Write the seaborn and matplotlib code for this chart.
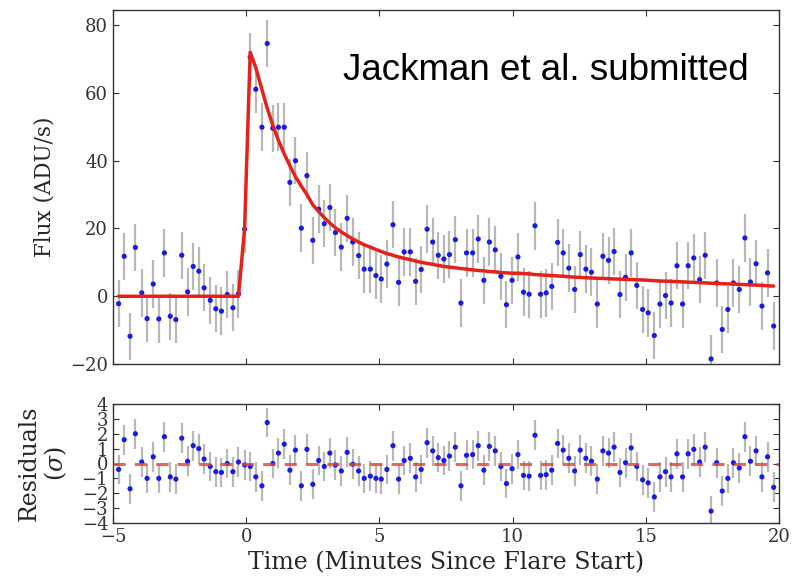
import numpy as np
import pandas as pd
import matplotlib
matplotlib.use("Agg")
import matplotlib.pyplot as plt
import seaborn as sns

# ---- data ----
time_min = [-4.79, -4.58, -4.36, -4.16, -3.92, -3.72, -3.49, -3.28, -3.07, -2.85,
            -2.64, -2.42, -2.20, -1.99, -1.78, -1.58, -1.35, -1.14, -0.93, -0.71,
            -0.50, -0.29, -0.06, 0.15, 0.36, 0.59, 0.79, 1.00, 1.21, 1.43,
            1.64, 1.85, 2.07, 2.28, 2.50, 2.72, 2.93, 3.14, 3.35, 3.57,
            3.79, 4.00, 4.22, 4.43, 4.66, 4.87, 5.07, 5.28, 5.51, 5.72,
            5.93, 6.16, 6.36, 6.57, 6.79, 7.00, 7.21, 7.42, 7.63, 7.85,
            8.06, 8.27, 8.50, 8.71, 8.92, 9.13, 9.35, 9.56, 9.77, 9.98,
            10.20, 10.41, 10.62, 10.84, 11.05, 11.26, 11.47, 11.69, 11.90, 12.11,
            12.33, 12.54, 12.75, 12.96, 13.18, 13.39, 13.60, 13.81, 14.03, 14.24,
            14.45, 14.66, 14.88, 15.09, 15.32, 15.53, 15.74, 15.95, 16.17, 16.38,
            16.59, 16.80, 17.02, 17.23, 17.45, 17.66, 17.87, 18.08, 18.29, 18.51,
            18.72, 18.93, 19.14, 19.36, 19.57, 19.80]

flux = [-2.2, 11.8, -11.8, 14.4, 1.0, -6.6, 3.6, -6.7, 12.8, -5.9,
        -6.9, 12.1, 1.3, 8.8, 7.4, 2.5, -1.2, -3.7, -4.4, 0.5,
        -3.4, 0.7, 19.8, 70.6, 61.1, 49.9, 74.6, 49.6, 49.9, 49.9,
        33.6, 40.0, 20.1, 35.6, 16.5, 25.7, 21.4, 26.2, 18.8, 14.5,
        23.0, 16.0, 12.0, 8.0, 8.0, 6.1, 5.1, 9.5, 21.1, 4.1,
        13.1, 13.1, 4.4, 7.9, 19.8, 16.0, 12.1, 11.0, 12.3, 16.7,
        -2.0, 12.8, 12.8, 16.9, 4.7, 16.0, 13.7, 5.9, -2.5, 4.7,
        11.6, 1.2, 0.6, 20.8, 0.6, 1.0, 2.9, 15.9, 12.8, 8.3,
        2.0, 12.3, 8.0, 7.1, -2.3, 11.8, 10.6, 13.2, 0.5, 5.6,
        12.8, 3.2, -3.9, -4.9, -11.6, -2.3, 0.2, -2.0, 9.0, -2.3,
        9.0, 11.3, 4.9, 12.1, -18.5, 3.9, -9.8, -3.9, 3.9, 2.0,
        17.2, 4.2, 9.6, -2.9, 6.9, -8.8]

flux_err = [7.0] * len(flux)

model = [0.0] * 22 + [
    20.0, 72.0, 67.5, 61.0, 55.5, 50.5, 46.0, 42.0, 38.5, 35.3,
    32.5, 30.0, 27.0, 25.0, 23.2, 21.6, 20.2, 19.0, 17.9, 16.9,
    16.0, 15.2, 14.5, 13.8, 13.2, 12.6, 12.1, 11.6, 11.2, 10.8,
    10.4, 10.0, 9.7, 9.4, 9.1, 8.8, 8.6, 8.4, 8.2, 8.0,
    7.8, 7.6, 7.5, 7.3, 7.2, 7.0, 6.9, 6.8, 6.8, 6.7,
    6.6, 6.4, 6.3, 6.2, 6.1, 6.0, 5.9, 5.75, 5.65, 5.55,
    5.45, 5.4, 5.3, 5.25, 5.2, 5.1, 5.05, 5.0, 4.95, 4.85,
    4.8, 4.7, 4.6, 4.5, 4.45, 4.4, 4.3, 4.25, 4.15, 4.1,
    4.0, 3.95, 3.85, 3.8, 3.7, 3.65, 3.6, 3.5, 3.45, 3.35,
    3.3, 3.2, 3.1, 3.0]

residuals = [-0.4, 1.6, -1.7, 2.0, 0.1, -1.0, 0.45, -1.0, 1.8, -0.9,
             -1.05, 1.7, 0.15, 1.2, 1.0, 0.3, -0.2, -0.55, -0.6, 0.0,
             -0.55, 0.1, -0.1, -0.2, -0.9, -1.5, 2.75, 0.0, 0.7, 1.3,
             -0.45, 0.9, -1.5, 0.95, -1.4, 0.2, -0.2, 0.7, -0.1, -0.5,
             0.75, -0.05, -0.5, -1.0, -0.85, -1.0, -1.05, -0.4, 1.2, -1.05,
             0.2, 0.35, -0.9, -0.4, 1.4, 0.85, 0.4, 0.2, 0.5, 1.1,
             -1.5, 0.55, 0.6, 1.2, -0.45, 1.15, 0.85, -0.2, -1.35, -0.35,
             0.6, -0.8, -0.85, 1.9, -0.8, -0.75, -0.45, 1.35, 0.9, 0.35,
             -0.5, 0.9, 0.35, 0.15, -1.05, 0.85, 0.7, 1.1, -0.6, 0.05,
             1.05, -0.2, -1.1, -1.3, -2.25, -0.9, -0.55, -0.9, 0.65, -0.9,
             0.65, 0.95, 0.1, 1.1, -3.2, 0.05, -1.85, -1.0, 0.05, -0.3,
             1.8, 0.15, 0.85, -0.9, 0.45, -1.6]
resid_err = [1.0] * len(residuals)

x_ticks = [-5, 0, 5, 10, 15, 20]
flux_ticks = [-20, 0, 20, 40, 60, 80]
resid_ticks = [-4, -3, -2, -1, 0, 1, 2, 3, 4]

df = pd.DataFrame({"time": time_min, "flux": flux, "err": flux_err,
                   "model": model, "resid": residuals, "rerr": resid_err})

# ---- style ----
sns.set_style("ticks")
plt.rcParams.update({
    "font.family": ["DejaVu Serif"],
    "mathtext.fontset": "dejavuserif",
    "axes.linewidth": 1.0,
    "axes.edgecolor": "#333333",
    "xtick.direction": "in",
    "ytick.direction": "in",
    "xtick.top": True,
    "ytick.right": True,
    "xtick.major.size": 4,
    "ytick.major.size": 4,
    "xtick.color": "#333333",
    "ytick.color": "#333333",
    "xtick.labelsize": 13,
    "ytick.labelsize": 13,
    "axes.labelsize": 16,
})

fig = plt.figure(figsize=(8.03, 5.80), dpi=100)
W, H = 803.0, 580.0
ax1 = fig.add_axes([113 / W, 1 - 364 / H, 666 / W, 354 / H])
ax2 = fig.add_axes([113 / W, 1 - 523 / H, 666 / W, 119 / H], sharex=ax1)

ebar_color = "#b8b8b8"
pt_color = "#1a1ae6"

# top panel
ax1.errorbar(df["time"], df["flux"], yerr=df["err"], fmt="none",
             ecolor=ebar_color, elinewidth=1.6, zorder=1)
sns.scatterplot(data=df, x="time", y="flux", ax=ax1, color=pt_color, s=14,
                edgecolor="none", zorder=2, legend=False)
sns.lineplot(data=df, x="time", y="model", ax=ax1, color="#e8201a",
             linewidth=2.5, zorder=3, legend=False)
ax1.set_xlim(-5, 20)
ax1.set_ylim(-20, 84.5)
ax1.set_yticks(flux_ticks)
ax1.set_xticks(x_ticks)
ax1.tick_params(labelbottom=False)
ax1.set_xlabel("")
ax1.set_ylabel("Flux (ADU/s)", fontsize=15.5)
ax1.yaxis.set_label_coords(-0.087, 0.5)

# residual panel
ax2.errorbar(df["time"], df["resid"], yerr=df["rerr"], fmt="none",
             ecolor=ebar_color, elinewidth=1.6, zorder=1)
sns.scatterplot(data=df, x="time", y="resid", ax=ax2, color=pt_color, s=14,
                edgecolor="none", zorder=2, legend=False)
ax2.axhline(0, color="#e8412f", alpha=0.8, linestyle=(0, (4, 3)),
            linewidth=2.2, zorder=3)
ax2.set_ylim(-4, 4)
ax2.set_yticks(resid_ticks)
ax2.set_xticks(x_ticks)
ax2.set_xlim(-5, 20)
ax2.set_xlabel("Time (Minutes Since Flare Start)", fontsize=17)
ax2.set_ylabel("Residuals\n($\\sigma$)", fontsize=17, linespacing=1.1)
ax2.yaxis.set_label_coords(-0.066, 0.5)

fig.text(343 / W, 1 - 80 / H, "Jackman et al. submitted",
         family=["Liberation Sans", "DejaVu Sans"], fontsize=26.5,
         color="black", va="baseline", ha="left")

fig.savefig("out.png", dpi=100, facecolor="white")
